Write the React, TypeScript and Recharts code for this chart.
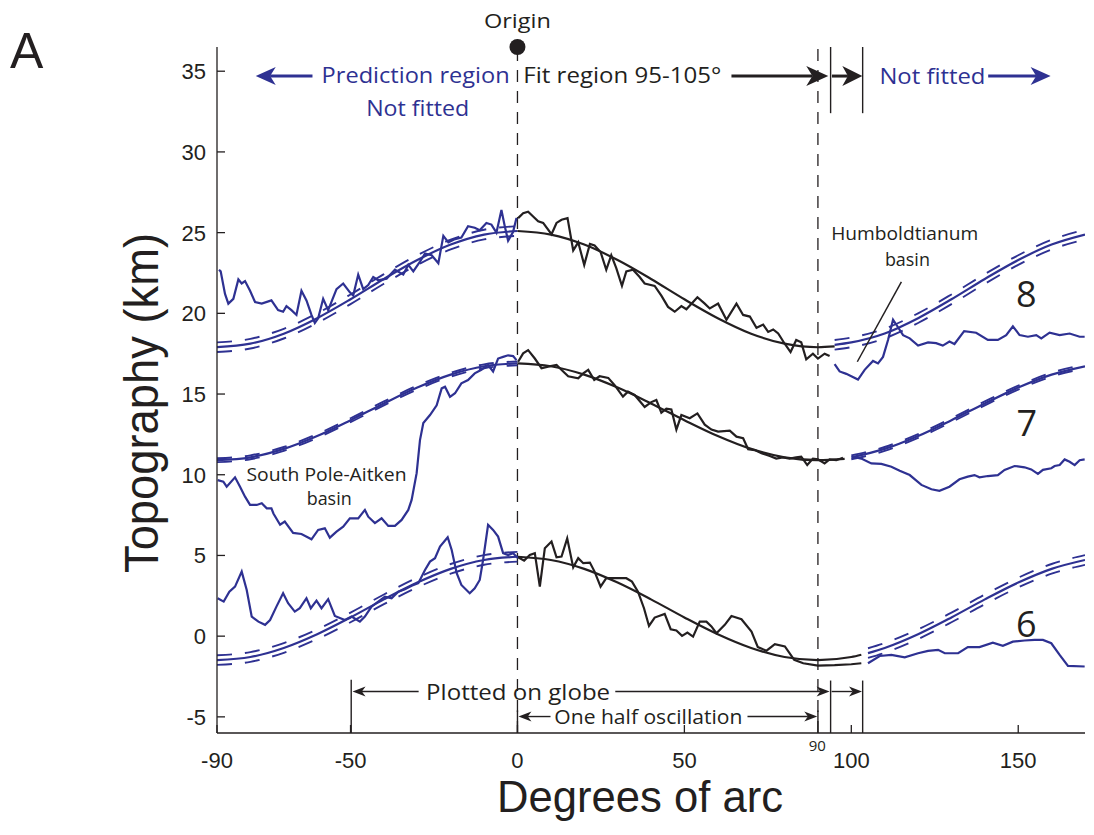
import React from 'react'
import { LineChart, Line, XAxis, YAxis, ReferenceLine, ReferenceDot } from 'recharts'

const BLUE = '#2E3192'
const INK = '#231F20'
const NOTE_FONT = "'Open Sans', 'Noto Sans', sans-serif"
const AXIS_FONT = "'Liberation Sans', Arial, sans-serif"

const xTicks = [-90, -50, 0, 50, 100, 150]
const yTicks = [-5, 0, 5, 10, 15, 20, 25, 30, 35]

// fitted curves, read every 10 degrees
const gridWest = [-90, -80, -70, -60, -50, -40, -30, -20, -10, 0]
const gridMid8 = [0, 10, 20, 30, 40, 50, 60, 70, 80, 90, 95]
const gridMid7 = [0, 10, 20, 30, 40, 50, 60, 70, 80, 90, 98]
const gridMid6 = [0, 10, 20, 30, 40, 50, 60, 70, 80, 90, 100, 103]
const gridEast8 = [95, 100, 110, 120, 130, 140, 150, 160, 170]
const gridEast7 = [100, 110, 120, 130, 140, 150, 160, 170]
const gridEast6 = [105, 110, 120, 130, 140, 150, 160, 170]

const fit8West = [17.9, 18.12, 18.74, 19.7, 20.87, 22.13, 23.3, 24.26, 24.88, 25.1]
const fit8WestHi = [18.2, 18.42, 19.04, 20.0, 21.17, 22.43, 23.6, 24.56, 25.18, 25.4]
const fit8WestLo = [17.6, 17.82, 18.44, 19.4, 20.57, 21.83, 23.0, 23.96, 24.58, 24.8]
const fit8Mid = [25.1, 24.88, 24.26, 23.3, 22.13, 20.87, 19.7, 18.74, 18.12, 17.9, 17.95]
const fit8East = [18.05, 18.2, 18.75, 19.7, 20.87, 22.13, 23.3, 24.26, 24.88]
const fit8EastHi = [18.35, 18.5, 19.05, 20.0, 21.17, 22.43, 23.6, 24.56, 25.18]
const fit8EastLo = [17.75, 17.9, 18.45, 19.4, 20.57, 21.83, 23.0, 23.96, 24.58]

const fit7West = [10.9, 11.08, 11.6, 12.4, 13.38, 14.42, 15.4, 16.2, 16.72, 16.9]
const fit7WestHi = [11.02, 11.2, 11.72, 12.52, 13.5, 14.54, 15.52, 16.32, 16.84, 17.02]
const fit7WestLo = [10.78, 10.96, 11.48, 12.28, 13.26, 14.3, 15.28, 16.08, 16.6, 16.78]
const fit7Mid = [16.9, 16.72, 16.2, 15.4, 14.42, 13.38, 12.4, 11.6, 11.08, 10.9, 10.98]
const fit7East = [11.08, 11.6, 12.4, 13.38, 14.42, 15.4, 16.2, 16.72]
const fit7EastHi = [11.2, 11.72, 12.52, 13.5, 14.54, 15.52, 16.32, 16.84]
const fit7EastLo = [10.96, 11.48, 12.28, 13.26, 14.3, 15.28, 16.08, 16.6]

const fit6West = [-1.48, -1.29, -0.73, 0.12, 1.16, 2.28, 3.32, 4.17, 4.72, 4.92]
const fit6WestHi = [-1.18, -0.99, -0.43, 0.42, 1.46, 2.58, 3.62, 4.47, 5.02, 5.22]
const fit6WestLo = [-1.78, -1.59, -1.03, -0.18, 0.86, 1.98, 3.02, 3.87, 4.42, 4.62]
const fit6Mid = [4.92, 4.72, 4.17, 3.32, 2.28, 1.16, 0.12, -0.73, -1.29, -1.48, -1.29, -1.15]
const fit6East = [-1.05, -0.73, 0.12, 1.16, 2.28, 3.32, 4.17, 4.72]
const fit6EastHi = [-0.75, -0.43, 0.42, 1.46, 2.58, 3.62, 4.47, 5.02]
const fit6EastLo = [-1.35, -1.03, -0.18, 0.86, 1.98, 3.02, 3.87, 4.42]

// measured profiles [degrees, km]
type P = [number, number]
const prof8West: P[] = [[-89.4, 22.7], [-88.9, 22.6], [-87.6, 21.2], [-86.6, 20.6], [-85.1, 20.9], [-83.6, 22.1], [-82.6, 21.85], [-81.6, 22.0], [-80.1, 21.4], [-78.6, 20.7], [-76.6, 20.6], [-73.7, 20.8], [-71.7, 20.2], [-70.2, 20.1], [-69.2, 20.45], [-67.7, 20.2], [-66.2, 19.9], [-64.7, 21.4], [-63.2, 20.8], [-61.7, 19.9], [-60.7, 19.4], [-59.7, 19.7], [-58.2, 20.9], [-56.7, 20.2], [-54.2, 21.5], [-52.2, 21.85], [-50.2, 21.3], [-49.2, 21.1], [-47.7, 22.4], [-46.2, 21.5], [-44.7, 21.75], [-43.2, 22.25], [-41.7, 22.05], [-39.2, 22.15], [-36.7, 22.7], [-34.2, 22.4], [-32.7, 23.0], [-31.2, 22.6], [-29.2, 23.2], [-27.7, 23.7], [-25.7, 23.6], [-23.7, 23.1], [-22.2, 24.8], [-20.7, 24.4], [-18.7, 24.6], [-16.8, 24.7], [-14.8, 25.4], [-12.8, 25.3], [-11.3, 25.15], [-9.3, 25.6], [-7.8, 25.5], [-6.3, 25.0], [-4.8, 26.4], [-3.8, 25.4], [-2.8, 24.5], [-1.3, 25.05], [-0.3, 25.9]]
const prof8Mid: P[] = [[0.2, 25.9], [1.7, 26.2], [3.2, 26.3], [4.7, 26.0], [6.2, 25.7], [7.7, 25.6], [10.2, 24.9], [11.7, 25.6], [13.2, 25.8], [15.0, 25.9], [16.7, 23.9], [18.2, 24.4], [20.0, 23.0], [21.7, 24.3], [23.1, 24.2], [24.9, 23.8], [26.6, 22.7], [28.1, 23.6], [29.6, 22.8], [31.3, 21.7], [32.6, 22.6], [34.6, 22.7], [36.6, 22.25], [38.1, 21.85], [41.1, 21.7], [43.1, 21.1], [45.1, 20.4], [47.1, 20.1], [49.1, 20.45], [50.6, 20.25], [53.9, 21.0], [56.1, 20.6], [57.6, 20.3], [60.1, 20.6], [62.6, 19.6], [65.6, 20.6], [67.6, 19.9], [69.6, 19.8], [71.6, 19.1], [73.6, 19.3], [75.1, 18.85], [76.6, 19.0], [78.1, 18.75], [80.1, 18.1], [81.8, 17.6], [83.5, 18.35], [85.0, 18.2], [86.5, 17.15], [88.5, 17.5], [90.0, 17.2], [92.0, 17.5], [93.5, 17.35]]
const prof8East: P[] = [[95.0, 16.85], [96.5, 16.4], [98.5, 16.25], [100.0, 16.1], [102.0, 15.9], [104.0, 16.5], [106.5, 17.05], [108.0, 16.9], [109.5, 17.3], [111.0, 18.35], [112.5, 19.6], [113.8, 19.2], [115.5, 18.65], [117.5, 18.45], [120.0, 18.0], [123.0, 18.2], [125.4, 18.15], [127.4, 18.0], [129.4, 18.25], [130.9, 18.1], [133.8, 18.9], [137.4, 18.8], [140.9, 18.35], [143.9, 18.35], [146.4, 18.65], [148.4, 19.2], [150.4, 18.65], [152.9, 18.55], [155.4, 18.65], [156.9, 18.45], [159.4, 18.8], [162.4, 18.65], [165.4, 18.75], [168.4, 18.55], [169.9, 18.55]]

const prof7West: P[] = [[-89.8, 9.67], [-88.1, 9.57], [-87.1, 9.26], [-84.6, 9.84], [-83.1, 9.26], [-81.6, 8.64], [-80.1, 8.13], [-78.1, 8.13], [-76.6, 8.23], [-75.1, 7.92], [-73.7, 7.92], [-73.1, 7.6], [-71.1, 6.9], [-69.7, 7.1], [-67.2, 6.4], [-64.7, 6.33], [-61.7, 6.0], [-59.7, 6.58], [-57.7, 6.68], [-56.2, 6.1], [-54.2, 6.47], [-52.2, 6.78], [-50.2, 7.3], [-47.7, 7.3], [-45.7, 7.82], [-44.7, 7.4], [-42.7, 7.0], [-40.7, 7.3], [-38.7, 6.83], [-36.7, 6.83], [-34.7, 7.2], [-32.7, 7.82], [-31.7, 8.44], [-30.2, 10.1], [-29.2, 12.15], [-28.2, 13.2], [-26.2, 13.7], [-24.2, 14.3], [-22.7, 15.35], [-21.7, 15.45], [-20.2, 14.83], [-18.7, 15.05], [-16.8, 15.66], [-14.8, 15.87], [-12.8, 16.28], [-10.8, 16.5], [-8.8, 16.8], [-7.3, 16.4], [-5.8, 17.2], [-4.3, 17.3], [-2.8, 17.4], [-1.3, 17.35], [-0.3, 17.1]]
const prof7Mid: P[] = [[0.2, 17.0], [1.7, 17.52], [3.2, 17.72], [5.2, 17.2], [7.2, 16.6], [9.2, 16.7], [11.7, 16.8], [13.7, 16.4], [15.2, 16.1], [18.2, 15.97], [19.7, 16.28], [21.2, 16.5], [23.0, 15.87], [24.6, 16.1], [27.2, 16.0], [29.1, 15.55], [31.6, 14.84], [33.1, 15.15], [35.1, 14.94], [38.1, 14.2], [40.1, 14.5], [41.6, 14.63], [43.1, 13.85], [44.6, 14.1], [46.1, 14.05], [47.6, 12.8], [49.1, 13.7], [51.6, 13.5], [53.9, 13.8], [56.1, 13.1], [58.1, 12.8], [60.1, 12.67], [63.6, 12.73], [65.6, 12.36], [67.6, 12.26], [69.1, 11.58], [71.1, 11.53], [73.1, 11.33], [75.6, 11.16], [77.5, 11.0], [79.5, 11.08], [81.5, 11.0], [83.5, 11.08], [85.0, 11.12], [86.8, 10.6], [88.5, 11.0], [90.0, 10.96], [92.0, 10.7], [93.5, 10.95], [95.5, 10.9], [97.5, 11.05]]
const prof7East: P[] = [[100.5, 11.12], [103.0, 11.0], [106.0, 10.7], [109.0, 10.67], [112.0, 10.5], [114.5, 10.25], [117.5, 9.98], [121.0, 9.37], [124.0, 9.1], [126.4, 9.0], [129.4, 9.26], [132.4, 9.72], [134.9, 9.88], [136.9, 9.98], [138.4, 9.84], [140.9, 9.92], [143.9, 9.98], [145.9, 10.3], [148.9, 10.54], [151.9, 10.46], [153.9, 10.33], [155.9, 10.05], [157.4, 10.3], [159.9, 10.4], [160.9, 10.54], [162.4, 10.6], [163.9, 10.95], [165.4, 10.8], [166.9, 10.6], [168.4, 10.9], [169.9, 10.95]]

const prof6West: P[] = [[-89.8, 2.35], [-88.0, 2.14], [-86.3, 2.76], [-84.6, 3.07], [-82.6, 4.0], [-81.1, 2.86], [-79.6, 1.21], [-77.6, 0.9], [-75.6, 0.7], [-74.1, 1.0], [-72.2, 1.83], [-70.2, 2.66], [-68.7, 2.04], [-66.7, 1.52], [-65.2, 1.73], [-63.2, 2.35], [-61.9, 1.73], [-60.2, 2.2], [-58.7, 1.73], [-56.7, 2.29], [-54.7, 1.25], [-51.7, 1.0], [-49.7, 1.21], [-47.2, 0.9], [-45.7, 1.21], [-43.7, 1.83], [-41.7, 2.14], [-39.7, 2.45], [-37.7, 2.35], [-35.7, 2.76], [-33.7, 2.91], [-31.7, 3.12], [-29.7, 3.28], [-27.7, 4.1], [-26.2, 4.62], [-24.7, 4.83], [-23.2, 5.55], [-20.9, 6.13], [-19.7, 5.34], [-18.2, 3.9], [-16.8, 3.17], [-14.3, 2.66], [-12.8, 2.97], [-11.3, 3.48], [-10.3, 4.72], [-8.8, 6.9], [-7.3, 6.58], [-5.8, 6.17], [-4.3, 5.14], [-2.8, 5.03], [-1.3, 5.14], [0.2, 4.83]]
const prof6Mid: P[] = [[0.2, 4.89], [2.0, 4.68], [3.7, 5.03], [5.2, 5.14], [6.7, 3.07], [8.2, 5.45], [10.2, 5.86], [11.7, 4.89], [13.2, 4.93], [14.9, 6.06], [16.7, 4.26], [18.2, 4.83], [19.7, 4.52], [21.7, 4.56], [23.1, 4.0], [24.9, 3.07], [26.6, 3.59], [29.1, 3.59], [32.6, 3.59], [34.3, 3.38], [36.1, 2.76], [37.9, 1.73], [39.4, 0.63], [41.1, 1.15], [44.1, 1.38], [45.9, 0.43], [47.6, 0.35], [49.3, 0.02], [50.9, 0.22], [52.6, -0.03], [54.6, 0.9], [56.6, 0.9], [58.1, 0.6], [59.6, 0.18], [62.1, 0.7], [64.1, 1.25], [67.1, 1.05], [70.1, 0.28], [72.0, -0.68], [74.6, -0.9], [77.1, -0.5], [80.1, -0.64], [82.9, -1.47], [85.6, -1.68], [90.0, -1.82], [95.0, -1.8], [100.0, -1.74], [103.0, -1.68]]
const prof6East: P[] = [[105.0, -1.68], [108.5, -1.23], [112.0, -1.16], [116.0, -1.31], [120.0, -1.06], [123.0, -0.91], [126.0, -0.85], [128.0, -1.06], [132.0, -1.06], [134.9, -0.68], [138.4, -0.68], [142.4, -0.4], [145.4, -0.6], [148.4, -0.34], [151.9, -0.27], [154.9, -0.23], [157.4, -0.23], [159.9, -0.44], [162.4, -1.16], [164.9, -1.84], [169.9, -1.88]]

const toPts = (pairs: P[]) => pairs.map(([x, y]) => ({ x, y }))
const zipPts = (xs: number[], ys: number[]) => xs.map((x, i) => ({ x, y: ys[i] }))

type Series = { id: string; data: { x: number; y: number }[]; color: string; dashed?: boolean; smooth?: boolean }
const series: Series[] = [
  { id: 'f8w', data: zipPts(gridWest, fit8West), color: BLUE, smooth: true },
  { id: 'f8wh', data: zipPts(gridWest, fit8WestHi), color: BLUE, smooth: true, dashed: true },
  { id: 'f8wl', data: zipPts(gridWest, fit8WestLo), color: BLUE, smooth: true, dashed: true },
  { id: 'f8m', data: zipPts(gridMid8, fit8Mid), color: INK, smooth: true },
  { id: 'f8e', data: zipPts(gridEast8, fit8East), color: BLUE, smooth: true },
  { id: 'f8eh', data: zipPts(gridEast8, fit8EastHi), color: BLUE, smooth: true, dashed: true },
  { id: 'f8el', data: zipPts(gridEast8, fit8EastLo), color: BLUE, smooth: true, dashed: true },
  { id: 'f7w', data: zipPts(gridWest, fit7West), color: BLUE, smooth: true },
  { id: 'f7wh', data: zipPts(gridWest, fit7WestHi), color: BLUE, smooth: true, dashed: true },
  { id: 'f7wl', data: zipPts(gridWest, fit7WestLo), color: BLUE, smooth: true, dashed: true },
  { id: 'f7m', data: zipPts(gridMid7, fit7Mid), color: INK, smooth: true },
  { id: 'f7e', data: zipPts(gridEast7, fit7East), color: BLUE, smooth: true },
  { id: 'f7eh', data: zipPts(gridEast7, fit7EastHi), color: BLUE, smooth: true, dashed: true },
  { id: 'f7el', data: zipPts(gridEast7, fit7EastLo), color: BLUE, smooth: true, dashed: true },
  { id: 'f6w', data: zipPts(gridWest, fit6West), color: BLUE, smooth: true },
  { id: 'f6wh', data: zipPts(gridWest, fit6WestHi), color: BLUE, smooth: true, dashed: true },
  { id: 'f6wl', data: zipPts(gridWest, fit6WestLo), color: BLUE, smooth: true, dashed: true },
  { id: 'f6m', data: zipPts(gridMid6, fit6Mid), color: INK, smooth: true },
  { id: 'f6e', data: zipPts(gridEast6, fit6East), color: BLUE, smooth: true },
  { id: 'f6eh', data: zipPts(gridEast6, fit6EastHi), color: BLUE, smooth: true, dashed: true },
  { id: 'f6el', data: zipPts(gridEast6, fit6EastLo), color: BLUE, smooth: true, dashed: true },
  { id: 'p8w', data: toPts(prof8West), color: BLUE },
  { id: 'p8m', data: toPts(prof8Mid), color: INK },
  { id: 'p8e', data: toPts(prof8East), color: BLUE },
  { id: 'p7w', data: toPts(prof7West), color: BLUE },
  { id: 'p7m', data: toPts(prof7Mid), color: INK },
  { id: 'p7e', data: toPts(prof7East), color: BLUE },
  { id: 'p6w', data: toPts(prof6West), color: BLUE },
  { id: 'p6m', data: toPts(prof6Mid), color: INK },
  { id: 'p6e', data: toPts(prof6East), color: BLUE },
]

// text notes placed in data coordinates (y = text baseline)
type Note = { x: number; y: number; text: string; color: string; size: number; width?: number }
const notes: Note[] = [
  { x: 0, y: 37.66, text: 'Origin', color: INK, size: 20, width: 67 },
  { x: -30.5, y: 34.26, text: 'Prediction region', color: BLUE, size: 22, width: 188 },
  { x: -29.9, y: 32.21, text: 'Not fitted', color: BLUE, size: 22, width: 103 },
  { x: 31.4, y: 34.26, text: 'Fit region 95-105°', color: INK, size: 22, width: 198 },
  { x: 124.3, y: 34.2, text: 'Not fitted', color: BLUE, size: 22, width: 106 },
  { x: 116.0, y: 24.54, text: 'Humboldtianum', color: INK, size: 18, width: 147 },
  { x: 116.8, y: 22.93, text: 'basin', color: INK, size: 18, width: 45 },
  { x: -57.2, y: 9.61, text: 'South Pole-Aitken', color: INK, size: 18, width: 160 },
  { x: -56.4, y: 8.13, text: 'basin', color: INK, size: 18, width: 45 },
  { x: 152.4, y: 20.41, text: '8', color: INK, size: 36 },
  { x: 152.6, y: 12.4, text: '7', color: INK, size: 36 },
  { x: 152.4, y: -0.03, text: '6', color: INK, size: 36 },
  { x: 0.2, y: -3.95, text: 'Plotted on globe', color: INK, size: 22, width: 184 },
  { x: 39.2, y: -5.43, text: 'One half oscillation', color: INK, size: 20, width: 188 },
  { x: 89.8, y: -7.1, text: '90', color: INK, size: 15 },
]

type Seg = { from: P; to: P; color: string; w: number; head?: number; half?: number }
const arrows: Seg[] = [
  { from: [-61.4, 34.7], to: [-78.4, 34.7], color: BLUE, w: 3, head: 20, half: 9 },
  { from: [64.1, 34.7], to: [93.1, 34.7], color: INK, w: 3, head: 22, half: 10 },
  { from: [94.2, 34.7], to: [103.3, 34.7], color: INK, w: 3, head: 20, half: 10 },
  { from: [141, 34.7], to: [159.7, 34.7], color: BLUE, w: 3, head: 20, half: 9 },
  { from: [-29.6, -3.43], to: [-49.4, -3.43], color: INK, w: 1.4, head: 13, half: 5 },
  { from: [29.3, -3.43], to: [93.5, -3.43], color: INK, w: 1.4, head: 13, half: 5 },
  { from: [94.1, -3.43], to: [103.2, -3.43], color: INK, w: 1.4, head: 13, half: 5 },
  { from: [9.9, -4.98], to: [0.3, -4.98], color: INK, w: 1.4, head: 13, half: 5 },
  { from: [68.9, -4.98], to: [89.8, -4.98], color: INK, w: 1.4, head: 13, half: 5 },
]
const bars: Seg[] = [
  { from: [93.8, 36.5], to: [93.8, 32.4], color: INK, w: 1.4 },
  { from: [103.4, 36.5], to: [103.4, 32.4], color: INK, w: 1.4 },
  { from: [-49.8, -2.7], to: [-49.8, -6], color: INK, w: 1.4 },
  { from: [93.8, -2.75], to: [93.8, -6], color: INK, w: 1.4 },
  { from: [103.4, -2.75], to: [103.4, -6], color: INK, w: 1.4 },
  { from: [0, -4.6], to: [0, -6], color: INK, w: 1.4 },
  { from: [90, -4.6], to: [90, -6], color: INK, w: 1.4 },
  { from: [115, 21.95], to: [101.8, 17.0], color: INK, w: 1.5 },
]

const segShape = (s: Seg) => (p: any) => {
  const { x1, y1, x2, y2 } = p
  if (!s.head) return <line x1={x1} y1={y1} x2={x2} y2={y2} stroke={s.color} strokeWidth={s.w} />
  const dx = x2 - x1
  const dy = y2 - y1
  const len = Math.hypot(dx, dy) || 1
  const ux = dx / len
  const uy = dy / len
  const half = s.half || 5
  const bx = x2 - ux * s.head
  const by = y2 - uy * s.head
  const kx = x2 - ux * s.head * 0.72
  const ky = y2 - uy * s.head * 0.72
  const pts = `${x2},${y2} ${bx - uy * half},${by + ux * half} ${kx},${ky} ${bx + uy * half},${by - ux * half}`
  return (
    <g>
      <line x1={x1} y1={y1} x2={kx} y2={ky} stroke={s.color} strokeWidth={s.w} />
      <polygon points={pts} fill={s.color} />
    </g>
  )
}

const BottomTick = (p: any) => {
  const { x, y, payload } = p
  return (
    <g>
      <line x1={x} y1={y} x2={x} y2={y - 8} stroke={INK} strokeWidth={1.3} />
      <text x={x} y={y + 35} textAnchor="middle" fontFamily={AXIS_FONT} fontSize={22} fill={INK}>
        {payload.value}
      </text>
    </g>
  )
}
const TopTick = (p: any) => <line x1={p.x} y1={p.y} x2={p.x} y2={p.y + 8} stroke={INK} strokeWidth={1.3} />
const LeftTick = (p: any) => {
  const { x, y, payload } = p
  return (
    <g>
      <line x1={x} y1={y} x2={x + 8} y2={y} stroke={INK} strokeWidth={1.3} />
      <text x={x - 11} y={y + 8} textAnchor="end" fontFamily={AXIS_FONT} fontSize={22} fill={INK}>
        {payload.value}
      </text>
    </g>
  )
}
const RightTick = (p: any) => <line x1={p.x} y1={p.y} x2={p.x - 8} y2={p.y} stroke={INK} strokeWidth={1.3} />

const XTitle = (p: any) => {
  const vb = p.viewBox
  return (
    <text x={vb.x + vb.width / 2 - 11} y={vb.y + 79} textAnchor="middle" fontFamily={AXIS_FONT} fontSize={45}
      fill={INK} textLength={286} lengthAdjust="spacingAndGlyphs">
      Degrees of arc
    </text>
  )
}
const YTitle = (p: any) => {
  const vb = p.viewBox
  const cx = vb.x + 1
  const cy = vb.y + vb.height / 2 + 13
  return (
    <text x={cx} y={cy} transform={`rotate(-90, ${cx}, ${cy})`} textAnchor="middle" fontFamily={AXIS_FONT}
      fontSize={49} fill={INK} textLength={340} lengthAdjust="spacingAndGlyphs">
      Topography (km)
    </text>
  )
}

export default function App() {
  return (
    <div style={{ position: 'absolute', left: 0, top: 0, width: 1094, height: 835, background: '#fff' }}>
      <div style={{ position: 'absolute', left: 10, top: 26, fontFamily: AXIS_FONT, fontSize: 50, lineHeight: 1, color: INK }}>
        A
      </div>
      <LineChart width={1094} height={835} margin={{ top: 47, right: 9, bottom: 42, left: 157 }}>
        <XAxis xAxisId="b" dataKey="x" type="number" domain={[-90, 170]} ticks={xTicks} interval={0}
          allowDataOverflow height={60} tickSize={0} tickMargin={0} tickLine={false}
          axisLine={{ stroke: INK, strokeWidth: 1.3 }} tick={<BottomTick />} label={{ content: XTitle }} />
        <XAxis xAxisId="t" orientation="top" dataKey="x" type="number" domain={[-90, 170]} ticks={xTicks}
          interval={0} allowDataOverflow height={0} tickSize={0} tickMargin={0} tickLine={false}
          axisLine={{ stroke: INK, strokeWidth: 1.3 }} tick={<TopTick />} />
        <YAxis yAxisId="l" type="number" domain={[-6, 36.5]} ticks={yTicks} interval={0} allowDataOverflow
          width={60} tickSize={0} tickMargin={0} tickLine={false}
          axisLine={{ stroke: INK, strokeWidth: 1.3 }} tick={<LeftTick />} label={{ content: YTitle }} />
        <YAxis yAxisId="r" orientation="right" type="number" domain={[-6, 36.5]} ticks={yTicks} interval={0}
          allowDataOverflow width={0} tickSize={0} tickMargin={0} tickLine={false}
          axisLine={{ stroke: INK, strokeWidth: 1.3 }} tick={<RightTick />} />

        <ReferenceLine xAxisId="b" yAxisId="l" x={0} stroke={INK} strokeWidth={1.3} strokeDasharray="12 9" />
        <ReferenceLine xAxisId="b" yAxisId="l" x={90} stroke={INK} strokeWidth={1.3} strokeDasharray="12 9" />

        {series.map((s) => (
          <Line key={s.id} xAxisId="b" yAxisId="l" data={s.data} dataKey="y" type={s.smooth ? 'monotone' : 'linear'}
            stroke={s.color} strokeWidth={s.dashed ? 1.9 : 2.2} strokeDasharray={s.dashed ? '15 13' : undefined}
            dot={false} activeDot={false} isAnimationActive={false} />
        ))}

        {bars.concat(arrows).map((s, i) => (
          <ReferenceLine key={'seg' + i} xAxisId="b" yAxisId="l" ifOverflow="visible"
            segment={[{ x: s.from[0], y: s.from[1] }, { x: s.to[0], y: s.to[1] }]} shape={segShape(s)} />
        ))}

        <ReferenceDot xAxisId="b" yAxisId="l" x={0} y={36.5} r={8} fill={INK} stroke="none" ifOverflow="visible" />

        {notes.map((n, i) => (
          <ReferenceDot key={'note' + i} xAxisId="b" yAxisId="l" x={n.x} y={n.y} r={0} fill="none" stroke="none"
            ifOverflow="visible"
            label={{
              content: (p: any) => (
                <text x={p.viewBox.x} y={p.viewBox.y} textAnchor="middle" fontFamily={NOTE_FONT} fontSize={n.size}
                  fill={n.color} textLength={n.width} lengthAdjust={n.width ? 'spacingAndGlyphs' : undefined}>
                  {n.text}
                </text>
              ),
            }} />
        ))}
      </LineChart>
    </div>
  )
}
